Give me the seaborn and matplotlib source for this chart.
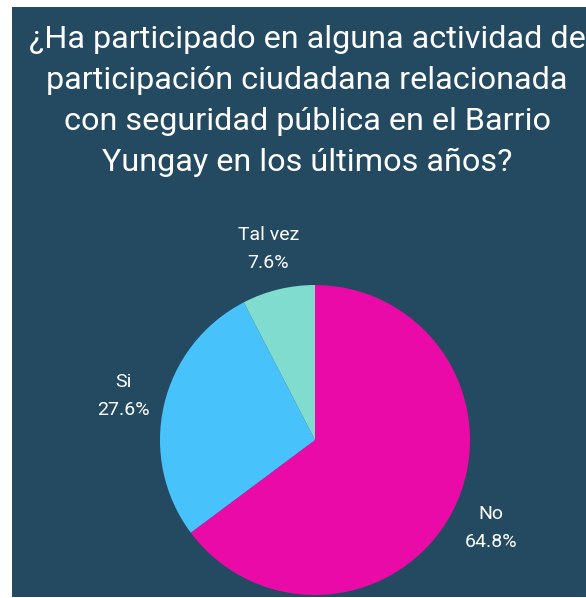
import numpy as np
import matplotlib.pyplot as plt
import seaborn as sns

# datos
categorias = ["No", "Si", "Tal vez"]
valores = [64.8, 27.6, 7.6]
colores = ["#ea0aa7", "#48c2fb", "#80dccf"]
titulo = ("¿Ha participado en alguna actividad de\n"
          "participación ciudadana relacionada\n"
          "con seguridad pública en el Barrio\n"
          "Yungay en los últimos años?")

sns.set_theme(style="white")
plt.rcParams["font.family"] = ["Roboto", "DejaVu Sans"]

fondo = "#234a61"
fig = plt.figure(figsize=(5.86, 5.98), dpi=100, facecolor="white")

# panel de fondo
bg = fig.add_axes([12 / 586, 1 / 598, 1 - 12 / 586, 1 - 8 / 598], zorder=-1)
bg.set_facecolor(fondo)
bg.set_xticks([])
bg.set_yticks([])
for s in bg.spines.values():
    s.set_visible(False)

fig.text(307 / 586, 1 - 25 / 598, titulo, ha="center", va="top", color="white",
         fontsize=23.3, linespacing=1.52)

ax = fig.add_axes([160 / 586, 1 - 595 / 598, 310 / 586, 310 / 598])
ax.set_facecolor("none")
wedges, _ = ax.pie(valores, colors=colores, startangle=90, counterclock=False,
                   radius=1, wedgeprops=dict(linewidth=0))
ax.set_xlim(-1, 1)
ax.set_ylim(-1, 1)
ax.set_aspect("equal")
ax.axis("off")

# etiquetas fuera del pastel
for w, cat, v in zip(wedges, categorias, valores):
    ang = (w.theta1 + w.theta2) / 2
    dist = 1.27
    x = dist * np.cos(np.deg2rad(ang))
    y = dist * np.sin(np.deg2rad(ang))
    ax.text(x, y, f"{cat}\n{v:.1f}%", ha="center", va="center", color="white",
            fontsize=14, linespacing=1.7, clip_on=False)

plt.savefig("out.png", dpi=100, facecolor="white")
